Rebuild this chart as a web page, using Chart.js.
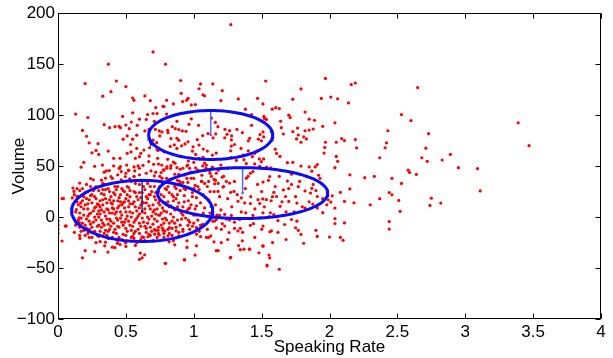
<!DOCTYPE html>
<html>
<head>
<meta charset="utf-8">
<script src="https://cdn.jsdelivr.net/npm/chart.js@4"></script>
<style>
html,body{margin:0;padding:0;background:#fff;}
#wrap{width:613px;height:358px;}
</style>
</head>
<body>
<div id="wrap"><canvas id="c" width="613" height="358"></canvas></div>
<script>
// ---------- DATA (speaking rate, volume) ----------
const xTickValues = [0, 0.5, 1, 1.5, 2, 2.5, 3, 3.5, 4];
const xTickLabels = ['0', '0.5', '1', '1.5', '2', '2.5', '3', '3.5', '4'];
const yTickValues = [-100, -50, 0, 50, 100, 150, 200];
const yTickLabels = ['\u2212100', '\u221250', '0', '50', '100', '150', '200'];

const sparsePoints = [[1.273,188.7],[0.70,162],[0.371,150],[0.792,150],[0.20,131],[0.43,133.5],[0.39,123],[0.50,128],[0.33,118.6],[0.904,134],[1.05,130.6],[1.14,130.6],[1.53,133.5],[1.21,124],[1.97,136],[2.16,130],[2.19,131.5],[2.65,127],[1.79,125.7],[2.01,117.7],[2.06,116],[2.14,112],[1.94,116.4],[1.73,115.7],[2.53,100.5],[2.60,94.7],[3.39,92.5],[3.47,70],[2.73,81.8],[2.71,67.6],[2.68,58.2],[2.64,41.8],[2.58,46],[2.59,43.7],[2.89,61.5],[2.83,56],[2.72,54.7],[2.95,48.5],[3.09,47.6],[3.11,25.6],[2.75,18.5],[2.82,13.7],[2.74,11.4],[2.37,58.2],[2.43,84.7],[2.42,72.8],[2.41,68],[2.33,40],[2.26,38.6],[2.46,38],[2.53,33],[2.37,18],[2.44,24],[2.46,21.8],[2.30,12],[2.51,16.3],[2.52,5.6],[2.44,-4.4],[2.44,-11.8],[2.19,76],[2.20,68],[2.09,77],[2.04,92.5],[2.05,73.4],[2.11,75],[2.05,59.5],[2.06,54.7],[2.04,48.5],[2.15,41.4],[2.15,27.6],[2.11,15.3],[2.18,14],[2.01,14.7],[2.02,20.8],[2.08,24.3],[2.04,8.8],[2.04,-1.5],[2.04,-6.3],[2.11,-5.7],[2.08,-20],[2.10,-22.8],[2.00,-19.6],[1.90,-13],[1.91,-19],[1.81,-25.7],[1.77,-13],[1.79,-17],[1.75,-10.5],[1.56,-14.4],[1.51,-28.6],[1.56,-40],[1.54,-48],[1.63,-51.2],[1.37,-31.5],[1.27,-40],[1.41,-31.5],[1.18,-33],[1.01,-37.3],[0.93,-41.8],[0.79,-45.4],[0.60,-41.5],[0.62,-40],[0.18,-40],[0.20,-33],[0.27,-33.8],[0.03,-23.5],[0.0,-4],[0.0,-8],[0.0,-12],[0.0,-16],[0.03,18],[0.06,-8.7]];

const upperLeftPoints = [[0.55,116.8],[0.56,114.6],[0.64,118.8],[0.68,114.2],[0.80,114.6],[0.72,107.4],[0.78,108.4],[0.13,101],[0.22,97.7],[0.55,102.3],[0.66,100.6],[0.70,101.6],[0.73,101.6],[0.80,101],[0.60,96],[0.65,95.8],[0.71,93.9],[0.476,98.7],[0.34,90.6],[0.38,87.7],[0.42,88.7],[0.45,89],[0.46,87.7],[0.50,90.3],[0.54,93.2],[0.525,86.7],[0.584,90],[0.18,85],[0.21,79.3],[0.295,72],[0.23,72.8],[0.25,63],[0.28,65.4],[0.30,61.5],[0.37,64.7],[0.48,76.4],[0.51,79.6],[0.55,76.4],[0.58,80.3],[0.535,71.2],[0.58,67.3],[0.61,62.5],[0.633,65.7],[0.675,68],[0.64,84.5],[0.67,86],[0.717,86],[0.746,84.5],[0.766,83.5],[0.70,75.4],[0.727,73],[0.75,79.6],[0.73,66.3],[0.734,57.6],[0.67,60],[0.705,51.8],[0.668,54.4],[0.60,59.2],[0.57,57.6],[0.538,64],[0.51,62.5],[0.457,57.6],[0.41,57.6],[0.41,50.2],[0.46,49.5],[0.454,47.9],[0.506,51],[0.56,49.2],[0.59,50.2],[0.626,50.8],[0.17,48.9],[0.19,53.7],[0.27,49.8],[0.327,51],[0.356,45.3],[0.378,45.6],[0.52,46],[0.565,45.3],[0.60,47.9],[0.776,46.3],[0.80,47.9],[0.737,65.4],[0.764,51]];

const upperMiddlePoints = [[1.039,125.9],[1.068,120],[1.08,119],[0.908,121.4],[0.7735,108.7],[0.85,111],[0.918,113.3],[0.948,114.6],[0.958,116.5],[0.982,110],[1.012,110.4],[1.20,114.2],[1.328,115.9],[1.38,105.8],[1.47,116.5],[1.51,111],[1.578,105.8],[1.426,100.6],[1.517,98.7],[1.53,96.4],[1.426,90],[1.13,97],[1.159,92.9],[1.178,88.7],[0.982,96.4],[0.965,91],[0.876,93.9],[0.842,88.7],[0.808,85.1],[0.81,82.8],[0.864,86.7],[0.89,85.8],[0.916,84.5],[0.943,84.1],[1.036,90],[1.066,79.9],[1.105,81.9],[1.142,77.7],[1.162,81.6],[1.23,86.1],[1.264,84.8],[1.245,81.2],[1.228,77.7],[1.279,79.6],[1.277,75.7],[1.318,86.1],[1.358,82.8],[1.412,77.3],[1.402,74.8],[1.476,76.4],[1.488,80.9],[1.51,83.5],[1.515,78.6],[1.498,74.8],[1.517,93.2],[1.535,95.8],[0.832,77],[0.876,77.3],[0.889,75.4],[0.857,70.9],[0.827,69.3],[0.876,67.3],[0.911,69.9],[0.936,71.8],[0.958,73.8],[0.995,68.9],[0.99,64.7],[1.026,76],[1.039,70.6],[1.07,66.7],[1.10,64.7],[1.137,60.8],[1.166,62.8],[1.014,61.5],[1.039,57.6],[1.068,58.6],[1.277,69.6],[1.272,65],[1.301,71.2],[1.348,67.3],[1.363,60.8],[1.402,65],[1.432,59.2],[1.449,62.5],[1.466,64.7],[1.483,57],[1.498,54.4],[1.486,49.8],[1.515,57],[0.781,64],[0.808,56.6],[0.803,49.5],[0.832,50.5],[0.862,52.8],[0.876,48.5],[0.92,47.9],[0.955,51.1],[1.0,53.7],[1.014,48.2],[1.066,50.2],[1.093,51.1],[1.137,48.9],[1.277,58.3],[1.314,55.7],[1.37,56.3],[1.387,52.4],[1.449,52.1],[1.537,48.9],[1.567,48.2]];

const rightUpperPoints = [[1.604,107.3],[1.63,106.4],[1.52,96.7],[1.70,100],[1.71,97.6],[1.82,103],[1.85,96],[1.89,95],[1.95,89],[1.88,86.4],[1.82,84.7],[1.85,85.3],[1.765,87.3],[1.73,83.8],[1.77,80.5],[1.757,76.7],[1.79,73.4],[1.83,76.7],[1.81,78.6],[1.64,94],[1.645,87.7],[1.66,81.5],[1.60,66.6],[1.61,62.4],[1.635,59.5],[1.69,53.4],[1.73,53.7],[1.79,50],[1.85,49.2],[1.895,49.2],[1.91,51.5],[1.87,45],[1.96,62.8],[1.965,68.3],[1.97,73.4],[1.92,41]];

const rightLowerPoints = [[1.69,35.3],[1.72,32],[1.77,29.8],[1.82,25.6],[1.87,28.2],[1.86,23.5],[1.91,20.2],[1.59,24.3],[1.66,26.6],[1.676,20.2],[1.61,20.2],[1.57,16],[1.70,15.3],[1.76,13.7],[1.636,10.5],[1.59,2.4],[1.74,5],[1.82,8.8],[1.877,12.7],[1.91,8.8],[1.95,4.3],[1.99,17],[1.98,12],[1.62,-3.4],[1.72,-2.4],[1.67,-7.3],[1.76,-4],[1.22,30],[1.25,18],[1.28,10],[1.3,35],[1.32,22],[1.35,5],[1.38,28],[1.4,40],[1.42,20],[1.45,8],[1.47,32],[1.5,25],[1.52,10],[1.55,36],[1.58,20],[1.6,30],[1.63,40],[1.65,15],[1.68,5],[1.7,28],[1.72,42],[1.75,20],[1.78,35],[1.8,10],[1.83,40],[1.85,15],[1.88,32],[1.9,26],[1.93,38],[1.95,18],[1.24,-2],[1.3,-5],[1.36,-15],[1.45,-20],[1.5,-12],[1.62,-15],[1.68,-22],[1.48,-35],[1.33,-28],[1.25,-22]];

const centerRightPoints = [[0.97,47.9],[1.117,45.6],[1.166,43],[1.21,39.1],[1.24,35],[1.264,33.3],[1.387,38.2],[1.417,43],[1.436,44.6],[1.51,34.3],[1.559,39.8],[0.82,36.6],[0.896,35],[0.957,34],[1.056,35],[1.11,35],[1.154,32.7],[1.179,25.2],[1.215,29.4],[1.272,24.3],[1.296,25.2],[1.35,18.8],[1.326,15.5],[1.375,13.9],[1.417,13.3],[1.473,17.1],[1.486,13.3],[1.508,17.8],[1.535,17.1],[1.44,-6.5],[1.51,-8.8],[1.417,-8.1],[1.343,-11],[1.326,-13.6],[1.358,-23.3],[1.412,-31.4],[1.51,-28.2],[1.554,-37.2],[1.54,-47],[1.343,-32],[1.272,-39.5],[1.166,-33],[1.203,-25],[1.149,-24.3],[1.125,-18.5],[1.02,-28.2],[0.933,-42],[0.95,-23.3],[0.95,-29.8],[0.86,-27.2],[0.793,-45.3],[0.85,-23.3],[0.818,-24.3],[1.02,-16.8],[1.05,-19.1],[1.093,-20],[1.166,-10.7],[1.21,-6.5],[1.228,-8.8],[1.203,-12],[1.26,-15.2],[1.3,-11],[1.154,-3.9],[1.068,-7.1],[1.02,-10.4],[0.957,-8.1],[0.92,-12],[0.89,-18.5],[0.87,-13.6],[0.82,-10.4],[0.786,-13.6],[1.117,1],[1.166,-2.3],[1.19,1.6],[1.228,2.6],[1.277,1.6],[1.383,4.2],[1.436,1.6],[1.486,-0.7],[1.554,0.3],[1.564,4.2],[1.51,4.2],[1.338,-2.3],[1.264,-2.9],[1.572,-13.6],[1.58,-25],[0.72,44],[0.75,40],[0.78,46],[0.8,38],[0.83,48],[0.86,42],[0.88,36],[0.9,47],[0.93,41],[0.95,50],[0.98,44],[1.0,38],[1.03,46],[1.06,41],[1.09,48],[1.12,43],[1.15,37],[1.18,46],[1.22,40],[1.25,48],[0.74,52],[0.85,54],[0.96,55],[1.08,53],[1.2,51]];

const lowerLeftEdgePoints = [[0.45,47.9],[0.466,44.6],[0.5,43],[0.52,45.6],[0.34,44],[0.24,37.8],[0.26,36.6],[0.32,36.2],[0.35,38.2],[0.39,39.8],[0.44,41.4],[0.466,36.6],[0.496,39.8],[0.528,37.5],[0.56,39.8],[0.60,41.4],[0.65,43],[0.685,45.3],[0.71,40.4],[0.76,43.7],[0.766,38.2],[0.16,33.3],[0.04,18.1],[0.054,-8.8],[0.11,28.5],[0.118,25.2],[0.105,18.8],[0.147,20.4],[0.167,13.9],[0.135,7.4],[0.155,-0.7],[0.157,-5.5],[0.162,-21],[0.344,-28.2],[0.35,-24.6],[0.368,-34.3],[0.40,-29.5],[0.42,-30],[0.437,-25.6],[0.457,-26.9],[0.50,-28.8],[0.57,-27.8],[0.606,-35.3],[0.638,-37],[0.496,-25],[0.56,-21],[0.619,-19.4],[0.663,-19.4],[0.712,-16.8],[0.746,-17.5],[0.773,-13],[0.737,-13],[0.81,-18.5]];

const denseCorePoints = [[0.12,22],[0.14,15],[0.13,5],[0.15,-3],[0.16,-10],[0.12,-15],[0.18,28],[0.17,10],[0.19,2],[0.18,-6],[0.2,-18],[0.21,18],[0.22,8],[0.21,-2],[0.23,-12],[0.22,25],[0.24,30],[0.25,14],[0.24,4],[0.26,-5],[0.25,-20],[0.27,20],[0.28,10],[0.27,0],[0.29,-9],[0.28,-25],[0.3,26],[0.31,16],[0.3,6],[0.32,-3],[0.31,-14],[0.33,33],[0.34,22],[0.33,12],[0.35,1],[0.34,-8],[0.36,-18],[0.37,28],[0.38,17],[0.37,7],[0.39,-4],[0.38,-12],[0.4,38],[0.41,24],[0.4,13],[0.42,3],[0.41,-6],[0.43,-16],[0.44,30],[0.45,19],[0.44,9],[0.46,-1],[0.45,-10],[0.47,-22],[0.48,35],[0.49,25],[0.48,14],[0.5,5],[0.49,-5],[0.51,-14],[0.52,29],[0.53,20],[0.52,10],[0.54,0],[0.53,-8],[0.55,-19],[0.56,40],[0.57,24],[0.56,15],[0.58,6],[0.57,-3],[0.59,-12],[0.6,32],[0.61,19],[0.6,9],[0.62,-1],[0.61,-9],[0.63,-20],[0.64,27],[0.65,14],[0.64,4],[0.66,-6],[0.65,-15],[0.67,36],[0.68,22],[0.67,11],[0.69,1],[0.68,-10],[0.7,-23],[0.71,30],[0.72,17],[0.71,7],[0.73,-4],[0.72,-13],[0.74,25],[0.75,12],[0.74,2],[0.76,-8],[0.77,33],[0.78,20],[0.77,9],[0.79,-1],[0.78,-16],[0.8,27],[0.81,15],[0.8,5],[0.82,-6],[0.83,37],[0.84,22],[0.83,11],[0.85,0],[0.84,-11],[0.86,30],[0.87,18],[0.86,7],[0.88,-3],[0.89,42],[0.9,26],[0.89,14],[0.91,4],[0.9,-8],[0.92,34],[0.93,21],[0.92,10],[0.94,-1],[0.95,29],[0.96,16],[0.95,6],[0.97,-5],[0.98,38],[0.99,24],[0.98,12],[1.0,2],[1.01,31],[1.02,19],[1.01,8],[1.03,-3],[1.04,27],[1.05,14],[1.06,35],[1.07,22],[1.08,9],[1.1,30],[1.11,17],[1.12,4],[1.13,40],[1.15,25],[1.16,12],[1.18,33],[1.19,20],[1.2,7]];

const denseFillPoints = [[0.15,12],[0.17,-1],[0.19,20],[0.2,-8],[0.22,13],[0.23,-4],[0.24,21],[0.26,6],[0.27,-14],[0.28,30],[0.29,3],[0.3,-19],[0.31,10],[0.32,23],[0.33,-6],[0.35,18],[0.36,-2],[0.36,8],[0.38,25],[0.39,-9],[0.4,4],[0.41,16],[0.42,-12],[0.43,27],[0.44,-3],[0.45,11],[0.46,22],[0.47,2],[0.48,-17],[0.49,9],[0.5,18],[0.5,-2],[0.51,30],[0.53,5],[0.54,-13],[0.55,13],[0.56,-5],[0.57,33],[0.58,20],[0.59,1],[0.6,-16],[0.61,12],[0.62,24],[0.63,-5],[0.64,8],[0.66,18],[0.67,-2],[0.68,30],[0.69,-14],[0.7,12],[0.72,3],[0.73,24],[0.74,-10],[0.75,16],[0.76,4],[0.78,-6],[0.79,28],[0.8,12],[0.81,-12],[0.83,3],[0.85,20],[0.86,-6],[0.88,10],[0.9,33],[0.91,-2],[0.93,15],[0.94,27],[0.96,-3],[0.97,9],[0.99,20],[1.0,-6],[1.02,11],[1.03,30],[1.05,-8],[1.07,4],[1.09,19],[1.1,-12],[1.12,25],[1.14,-4],[1.16,36],[1.17,2],[0.13,-8],[0.14,28],[0.16,4],[0.18,16],[0.19,-13],[0.21,32],[0.22,1],[0.23,17],[0.25,-10],[0.26,26],[0.28,-3],[0.29,13],[0.3,0],[0.31,-24],[0.32,7],[0.33,17],[0.34,-16],[0.35,27],[0.37,-7],[0.38,4],[0.39,14],[0.4,-20],[0.42,22],[0.43,5],[0.44,-9],[0.46,15],[0.47,-5],[0.48,26],[0.5,-25],[0.51,1],[0.52,16],[0.54,35],[0.55,-9],[0.57,10],[0.58,-25],[0.6,24],[0.62,5],[0.63,14],[0.65,-11],[0.66,33],[0.68,-18],[0.7,5],[0.71,20],[0.73,-20],[0.75,30],[0.77,-2],[0.79,14],[0.82,24],[0.84,-18],[0.87,28],[0.89,-15],[0.92,2],[0.95,38],[0.97,-12],[1.0,28],[1.04,-14],[1.08,33],[1.11,-20],[1.14,9]];

const denseExtraPoints = [[0.14,20],[0.16,26],[0.17,-14],[0.19,8],[0.2,24],[0.21,-11],[0.22,-16],[0.23,3],[0.24,-7],[0.25,22],[0.26,-15],[0.27,9],[0.28,18],[0.29,-18],[0.3,12],[0.31,3],[0.32,-10],[0.33,27],[0.34,5],[0.35,-13],[0.36,14],[0.37,-21],[0.38,-2],[0.39,20],[0.4,9],[0.41,-15],[0.42,30],[0.43,-1],[0.44,16],[0.45,-20],[0.46,5],[0.47,28],[0.48,-8],[0.49,15],[0.5,-11],[0.51,22],[0.52,-4],[0.53,13],[0.54,-20],[0.55,4],[0.56,25],[0.57,-14],[0.58,-1],[0.59,17],[0.6,3],[0.61,-22],[0.62,15],[0.63,30],[0.64,-9],[0.65,20],[0.66,0],[0.67,-17],[0.68,8],[0.69,25],[0.7,-7],[0.71,-12],[0.72,24],[0.73,8],[0.74,-16],[0.75,2],[0.76,22],[0.77,-11],[0.78,6],[0.8,-3],[0.81,30],[0.82,10],[0.84,-4],[0.85,16],[0.87,-10],[0.88,22],[0.9,6],[0.92,-14],[0.93,28],[0.96,8],[0.99,-9],[1.02,2],[0.16,-18],[0.2,12],[0.23,-20],[0.27,28],[0.3,-8],[0.34,32],[0.37,-14],[0.41,8],[0.44,-25],[0.47,12],[0.5,-18],[0.53,26],[0.56,-16],[0.6,-6],[0.64,-23],[0.67,22],[0.71,-2],[0.74,14],[0.78,-20],[0.82,-16]];

// Gaussian component contours (centre and semi-axes, data units)
const ellipseCenterX = [1.125, 1.36, 0.62];
const ellipseCenterY = [80.5, 23.5, 6];
const ellipseRadiusX = [0.457, 0.627, 0.52];
const ellipseRadiusY = [24, 25, 30];
const axisLineColors = ['#4f6bff', '#4f6bff', '#1c2a9c'];

// ---------- BUILD ----------
const allPoints = [].concat(sparsePoints, upperLeftPoints, upperMiddlePoints, rightUpperPoints,
  rightLowerPoints, centerRightPoints, lowerLeftEdgePoints, denseCorePoints, denseFillPoints, denseExtraPoints)
  .map(p => ({x: p[0], y: p[1]}));

function ellipsePath(i) {
  const pts = [];
  const n = 120;
  for (let k = 0; k <= n; k++) {
    const t = k / n * 2 * Math.PI;
    pts.push({x: ellipseCenterX[i] + ellipseRadiusX[i] * Math.cos(t),
              y: ellipseCenterY[i] + ellipseRadiusY[i] * Math.sin(t)});
  }
  return pts;
}

const datasets = [];
for (let i = 0; i < ellipseCenterX.length; i++) {
  datasets.push({
    type: 'scatter', data: ellipsePath(i), showLine: true, tension: 0,
    borderColor: '#0a0aff', borderWidth: 3, pointRadius: 0, order: 0, fill: false
  });
  datasets.push({
    type: 'scatter',
    data: [{x: ellipseCenterX[i], y: ellipseCenterY[i] + ellipseRadiusY[i]},
           {x: ellipseCenterX[i], y: ellipseCenterY[i]}],
    showLine: true, borderColor: axisLineColors[i], borderWidth: 1.5,
    pointRadius: [0, 1.3], pointBackgroundColor: axisLineColors[i], pointBorderWidth: 0, order: 0
  });
}
datasets.push({
  type: 'scatter', data: allPoints, pointRadius: 1.6, pointBorderWidth: 0,
  pointBackgroundColor: '#ff0000', borderColor: '#ff0000', order: 1
});

const FONT = 'Liberation Sans, Arial, Helvetica, sans-serif';

const framePlugin = {
  id: 'frame',
  afterDraw(chart) {
    const {ctx, chartArea: a, scales: {x, y}} = chart;
    ctx.save();
    ctx.strokeStyle = '#000';
    ctx.lineWidth = 1;
    const L = Math.round(a.left) + 0.5, R = Math.round(a.right) - 0.5;
    const T = Math.round(a.top) + 0.5, B = Math.round(a.bottom) - 0.5;
    ctx.strokeRect(L, T, R - L, B - T);
    const tl = 5;
    ctx.beginPath();
    xTickValues.forEach(v => {
      const px = Math.round(x.getPixelForValue(v)) + 0.5;
      ctx.moveTo(px, B); ctx.lineTo(px, B - tl);
      ctx.moveTo(px, T); ctx.lineTo(px, T + tl);
    });
    yTickValues.forEach(v => {
      const py = Math.round(y.getPixelForValue(v)) + 0.5;
      ctx.moveTo(L, py); ctx.lineTo(L + tl, py);
      ctx.moveTo(R, py); ctx.lineTo(R - tl, py);
    });
    ctx.stroke();
    ctx.restore();
  }
};

new Chart(document.getElementById('c'), {
  type: 'scatter',
  data: {datasets},
  options: {
    responsive: false,
    animation: false,
    devicePixelRatio: 1,
    layout: {padding: {top: 10, right: 12, left: 0, bottom: 0}},
    plugins: {legend: {display: false}, tooltip: {enabled: false}},
    scales: {
      x: {
        type: 'linear', min: 0, max: 4,
        afterBuildTicks(s) { s.ticks = xTickValues.map(v => ({value: v})); },
        afterFit(s) { s.height = 39; },
        grid: {display: false, drawTicks: false},
        border: {display: false},
        ticks: {
          color: '#000', font: {family: FONT, size: 17}, padding: 3,
          maxRotation: 0, autoSkip: false,
          callback: (v) => { const i = xTickValues.indexOf(v); return i >= 0 ? xTickLabels[i] : ''; }
        },
        title: {display: true, text: 'Speaking Rate', color: '#000',
                font: {family: FONT, size: 17}, padding: {top: 0, bottom: 0}}
      },
      y: {
        type: 'linear', min: -100, max: 200,
        afterBuildTicks(s) { s.ticks = yTickValues.map(v => ({value: v})); },
        afterFit(s) { s.width = 58; },
        grid: {display: false, drawTicks: false},
        border: {display: false},
        ticks: {
          color: '#000', font: {family: FONT, size: 17}, padding: 3,
          autoSkip: false,
          callback: (v) => { const i = yTickValues.indexOf(v); return i >= 0 ? yTickLabels[i] : ''; }
        },
        title: {display: true, text: 'Volume', color: '#000',
                font: {family: FONT, size: 17}, padding: {top: 9, bottom: 0}}
      }
    }
  },
  plugins: [framePlugin]
});
</script>
</body>
</html>
